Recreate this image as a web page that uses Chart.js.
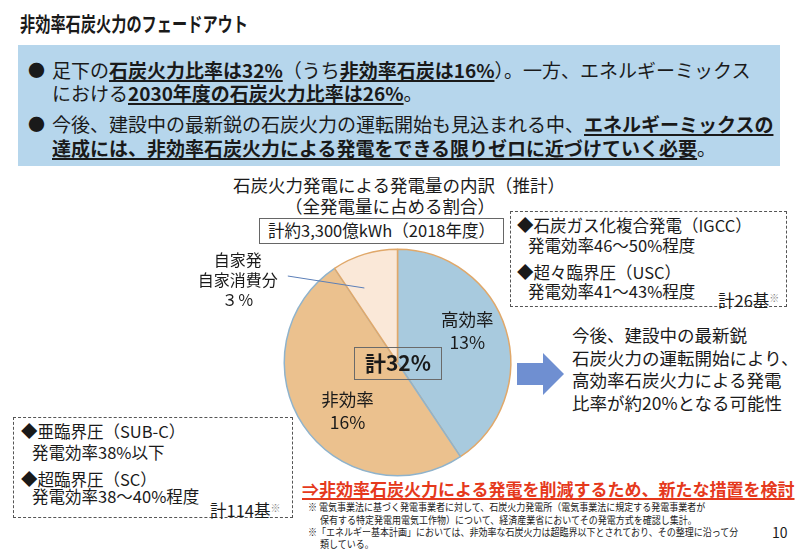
<!DOCTYPE html>
<html lang="ja">
<head>
<meta charset="utf-8">
<script src="https://cdn.jsdelivr.net/npm/chart.js@4"></script>
<style>
  html, body { margin: 0; padding: 0; background: #fff; }
  body { width: 800px; height: 554px; position: relative; overflow: hidden;
         font-family: "Noto Sans CJK JP", "Noto Sans", sans-serif; color: #1a1a1a; }
  .abs { position: absolute; white-space: nowrap; }
  .title { left: 20px; top: 9px; font-size: 20px; font-weight: bold; transform: scaleX(0.76); transform-origin: left; }
  .topbox { left: 18px; top: 45px; width: 762px; height: 121px; background: #b6d6ec; }
  .bl { font-size: 19px; line-height: 24px; }
  .dot { font-size: 17px; line-height: 24px; }
  .u { font-weight: bold; text-decoration: underline; text-decoration-thickness: 2px; text-underline-offset: 2px; }
  .ct { font-size: 17.5px; line-height: 21px; }
  .kwh { left: 259px; top: 218px; width: 245px; height: 26px; border: 1.5px solid #666; box-sizing: border-box;
         font-size: 16.5px; line-height: 23px; text-align: center; }
  .dash { border: 1.2px dashed #555; box-sizing: border-box; background: #fff; }
  .sm { font-size: 16.5px; line-height: 19px; }
  .tot { left: 354px; top: 347px; width: 88px; height: 33px; border: 1.5px solid #6a6a6a; box-sizing: border-box;
         font-size: 21px; font-weight: bold; line-height: 29px; text-align: center; z-index: 3; }
  .red { left: 302px; top: 476px; font-size: 17px; font-weight: bold; color: #e5391c;
         text-decoration: underline; text-decoration-thickness: 1.5px; text-underline-offset: 2px; }
  .fn { font-size: 10px; line-height: 13px; transform: scaleX(0.9); transform-origin: left; }
  canvas { position: absolute; left: 0; top: 0; z-index: 2; }
  svg.arrow { position: absolute; left: 515px; top: 350px; z-index: 3; }
</style>
</head>
<body>
<div class="abs title">非効率石炭火力のフェードアウト</div>
<div class="abs topbox"></div>
<div class="abs dot" style="left:28px;top:58px;">●</div>
<div class="abs bl" style="left:52px;top:58px;">足下の<span class="u">石炭火力比率は32%</span>（うち<span class="u">非効率石炭は16%</span>）。一方、エネルギーミックス</div>
<div class="abs bl" style="left:52px;top:81px;">における<span class="u">2030年度の石炭火力比率は26%</span>。</div>
<div class="abs dot" style="left:28px;top:112px;">●</div>
<div class="abs bl" style="left:52px;top:112px;">今後、建設中の最新鋭の石炭火力の運転開始も見込まれる中、<span class="u">エネルギーミックスの</span></div>
<div class="abs bl" style="left:52px;top:136px;"><span class="u">達成には、非効率石炭火力による発電をできる限りゼロに近づけていく必要</span>。</div>

<div class="abs ct" style="left:233px;top:174px;">石炭火力発電による発電量の内訳（推計）</div>
<div class="abs ct" style="left:285px;top:195px;">（全発電量に占める割合）</div>
<div class="abs kwh">計約3,300億kWh（2018年度）</div>

<div class="abs dash" style="left:510px;top:211px;width:277px;height:96px;"></div>
<div class="abs sm" style="left:517px;top:216px;">◆石炭ガス化複合発電（IGCC）</div>
<div class="abs sm" style="left:528px;top:236px;">発電効率46～50%程度</div>
<div class="abs sm" style="left:517px;top:263px;">◆超々臨界圧（USC）</div>
<div class="abs sm" style="left:528px;top:282px;">発電効率41～43%程度</div>
<div class="abs sm" style="left:718px;top:288px;">計26基<span style="font-size:10px;vertical-align:5px;color:#888;">※</span></div>

<svg class="arrow" width="52" height="48" viewBox="0 0 52 48">
  <polygon points="2,13 28,13 28,3 49,24 28,45 28,35 2,35" fill="#6f8fd1"/>
</svg>
<div class="abs ct" style="left:572px;top:324px;line-height:22.5px;">今後、建設中の最新鋭<br>石炭火力の運転開始により、<br>高効率石炭火力による発電<br>比率が約20%となる可能性</div>

<div class="abs dash" style="left:13px;top:417px;width:280px;height:101px;"></div>
<div class="abs sm" style="left:21px;top:422px;">◆亜臨界圧（SUB-C）</div>
<div class="abs sm" style="left:32px;top:443px;">発電効率38%以下</div>
<div class="abs sm" style="left:21px;top:470px;">◆超臨界圧（SC）</div>
<div class="abs sm" style="left:32px;top:487px;">発電効率38～40%程度</div>
<div class="abs sm" style="left:210px;top:498px;">計114基<span style="font-size:10px;vertical-align:5px;color:#888;">※</span></div>

<div class="abs tot">計32%</div>

<div class="abs red">⇒非効率石炭火力による発電を削減するため、新たな措置を検討</div>
<div class="abs fn" style="left:308px;top:500px;">※&nbsp;電気事業法に基づく発電事業者に対して、石炭火力発電所（電気事業法に規定する発電事業者が</div>
<div class="abs fn" style="left:320px;top:513px;">保有する特定発電用電気工作物）について、経済産業省においてその発電方式を確認し集計。</div>
<div class="abs fn" style="left:308px;top:525px;">※「エネルギー基本計画」においては、非効率な石炭火力は超臨界以下とされており、その整理に沿って分</div>
<div class="abs fn" style="left:320px;top:537px;">類している。</div>
<div class="abs" style="left:772px;top:522px;font-size:14px;">10</div>

<canvas id="pieChart" width="800" height="554"></canvas>

<script>
// ---- datos ----
const categorias = ['高効率', '非効率', '自家発\n自家消費分'];
const valores    = [13, 16, 3];
const etiquetas  = ['13%', '16%', '３％'];

// ---- colores ----
const BLUE      = '#a8cade';
const TAN       = '#ebc18e';
const CREAM     = '#fae8d8';
const EDGE_TAN  = '#e0a86a';
const EDGE_BLUE = '#8fb3cc';

const FONT = '"Noto Sans CJK JP", "Noto Sans", sans-serif';

// etiquetas dentro / fuera de la torta
const labelPlugin = {
    id: 'pieLabels',
    afterDatasetsDraw(chart) {
        const { ctx } = chart;
        const arcs = chart.getDatasetMeta(0).data;
        ctx.save();
        ctx.fillStyle = '#1a1a1a';
        ctx.textAlign = 'center';
        ctx.textBaseline = 'middle';
        ctx.font = '17.5px ' + FONT;

        arcs.forEach((arc, i) => {
            const { x, y, startAngle, endAngle, outerRadius } = arc.getProps(['x', 'y', 'startAngle', 'endAngle', 'outerRadius'], true);
            if (i < 2) {
                const a = startAngle + (endAngle - startAngle) * 0.445;
                const r = outerRadius * (i === 0 ? 0.68 : 0.61);
                const lx = x + Math.cos(a) * r;
                const ly = y + Math.sin(a) * r;
                ctx.fillText(categorias[i], lx, ly - 11);
                ctx.fillText(etiquetas[i], lx, ly + 12);
            } else {
                // línea guía hacia el texto exterior
                const a = startAngle + (endAngle - startAngle) * 0.29;
                const ex = x + Math.cos(a) * outerRadius * 0.72;
                const ey = y + Math.sin(a) * outerRadius * 0.72;
                const tx = x - outerRadius * 1.41;
                const ty = y - outerRadius * 0.64;
                ctx.strokeStyle = '#5b7fb8';
                ctx.lineWidth = 1;
                ctx.beginPath();
                ctx.moveTo(tx + 50, ty - 14);
                ctx.lineTo(ex, ey);
                ctx.stroke();
                ctx.font = '16px ' + FONT;
                const lines = categorias[i].split('\n');
                ctx.fillText(lines[0], tx, ty - 30);
                ctx.fillText(lines[1], tx, ty - 10);
                ctx.fillText(etiquetas[i], tx, ty + 10);
            }
        });
        ctx.restore();
    }
};

const pieCtx = document.getElementById('pieChart');
new Chart(pieCtx, {
    type: 'pie',
    data: {
        labels: categorias,
        datasets: [{
            data: valores,
            backgroundColor: [BLUE, TAN, CREAM],
            borderColor: [EDGE_TAN, EDGE_BLUE, EDGE_TAN],
            borderWidth: 1.5,
        }]
    },
    options: {
        responsive: false,
        animation: false,
        layout: { padding: { left: 283.5, right: 288.5, top: 248.5, bottom: 77.5 } },
        plugins: {
            legend: { display: false },
            tooltip: { enabled: false }
        }
    },
    plugins: [labelPlugin]
});
</script>
</body>
</html>
